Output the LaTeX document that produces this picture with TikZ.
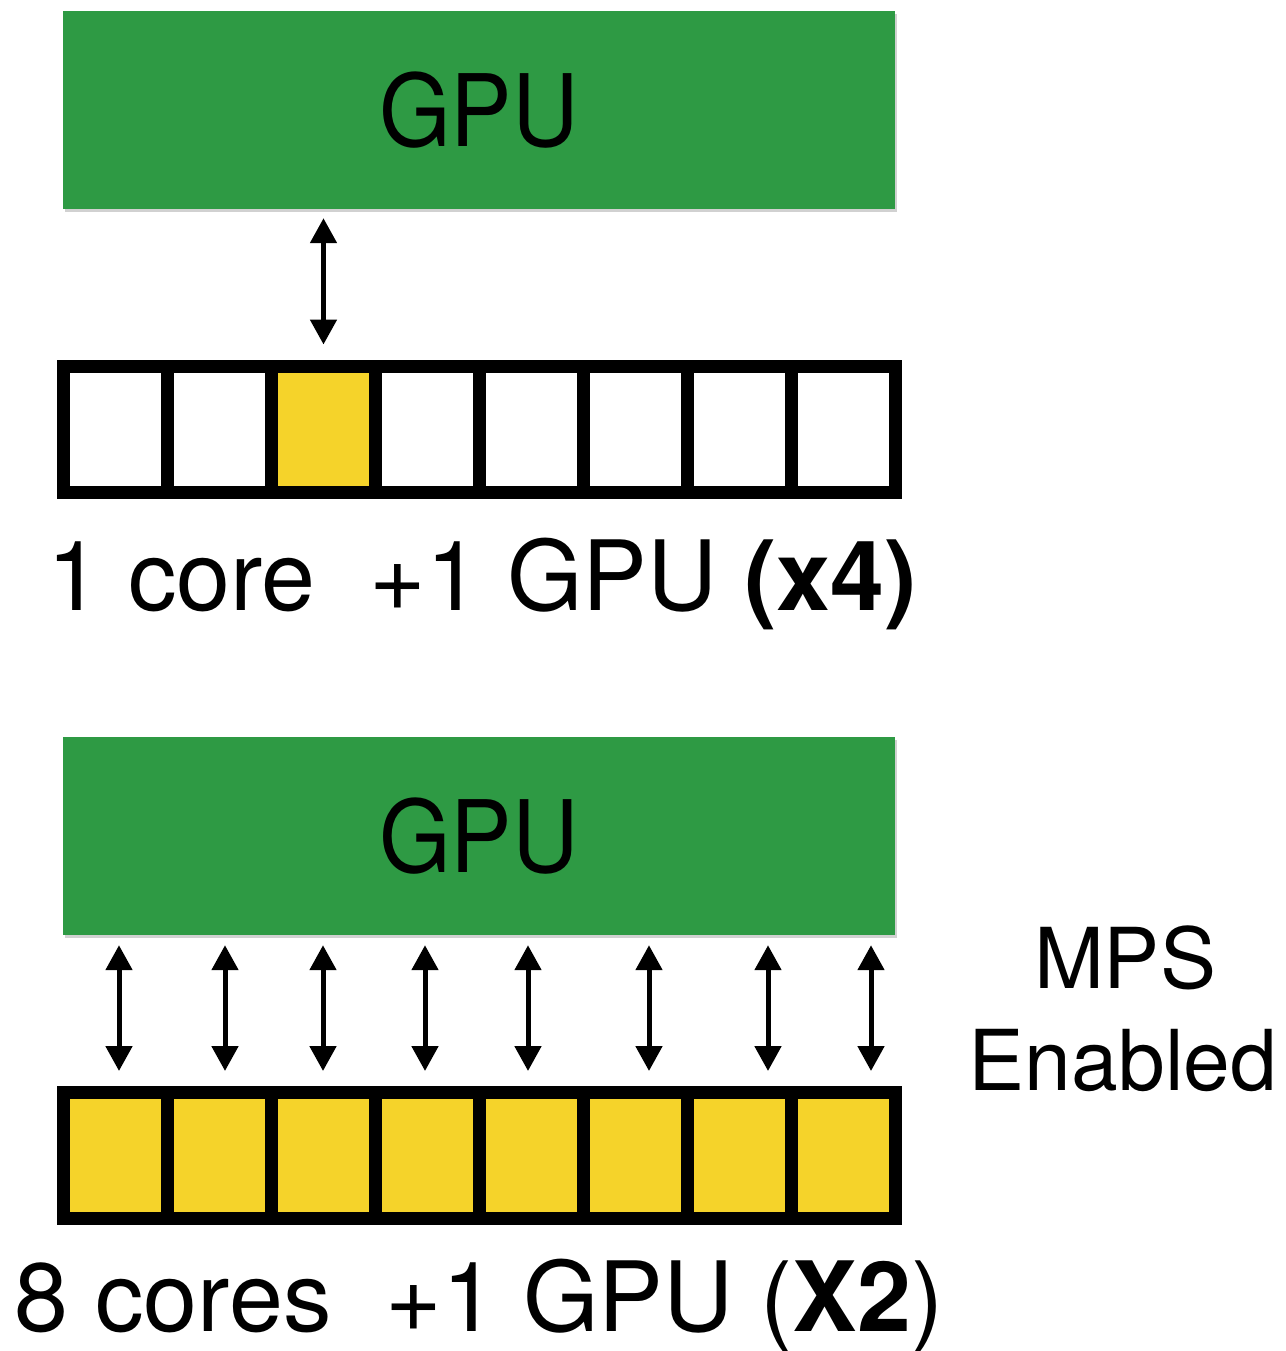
\documentclass[tikz,border=0pt]{standalone}
\usepackage{fontspec}
\setmainfont{TeX Gyre Heros}
\newfontfamily\gpufont{TeX Gyre Heros}[FakeStretch=0.92]
\usetikzlibrary{arrows.meta,shadows}
\definecolor{gpugreen}{RGB}{46,154,68}
\definecolor{coreyellow}{RGB}{245,211,42}
\tikzset{
  gpubox/.style={rectangle, fill=gpugreen, minimum width=832pt, minimum height=198pt,
    inner sep=0pt, drop shadow={shadow xshift=2pt, shadow yshift=-3pt, opacity=0.18, fill=black},
    font=\gpufont\fontsize{100}{100}\selectfont},
  corecell/.style={rectangle, draw=black, line width=13pt, minimum width=104pt,
    minimum height=126pt, inner sep=0pt},
  busy/.style={corecell, fill=coreyellow},
  idle/.style={corecell, fill=white},
  link/.style={line width=5pt, {Triangle[width=26pt,length=25pt]}-{Triangle[width=26pt,length=25pt]}},
  biglabel/.style={font=\fontsize{97}{97}\selectfont, inner sep=0pt, anchor=base},
  mpslabel/.style={font=\fontsize{84}{84}\selectfont, inner sep=0pt, anchor=base}
}
\begin{document}
\begin{tikzpicture}[x=1pt,y=-1pt]
\useasboundingbox (0,0) rectangle (1285,1351);
% ---------- top panel ----------
\node[gpubox] (gpu1) at (479,110) {GPU};
\foreach \i in {1,...,8}{
  \ifnum\i=3
    \node[busy] (a\i) at ({11.5+104*\i},429.5) {};
  \else
    \node[idle] (a\i) at ({11.5+104*\i},429.5) {};
  \fi
}
\draw[link, shorten <=9pt, shorten >=15.5pt] (a3.north |- gpu1.south) -- (a3.north);
\node[biglabel] (lab1) at (482,610) {1 core\ \ +1 GPU \textbf{(x4)}};
% ---------- bottom panel ----------
\node[gpubox] (gpu2) at (479,836) {GPU};
\foreach \i in {1,...,8}{
  \node[busy] (b\i) at ({11.5+104*\i},1155) {};
}
\foreach \i/\dx in {1/3.5,2/5.5,3/-0.5,4/-2.5,5/-3.5,6/13.5,7/28.5,8/27.5}{
  \draw[link, shorten <=10pt, shorten >=14.5pt]
    ([xshift=\dx pt]b\i.north |- gpu2.south) -- ([xshift=\dx pt]b\i.north);
}
\node[biglabel] (lab2) at (479,1331) {8 cores\ \ +1 GPU (\textbf{X2})};
\node[mpslabel] (mps) at (1125,988) {MPS};
\node[mpslabel] (enab) at (1123,1090) {Enabled};
\end{tikzpicture}
\end{document}
